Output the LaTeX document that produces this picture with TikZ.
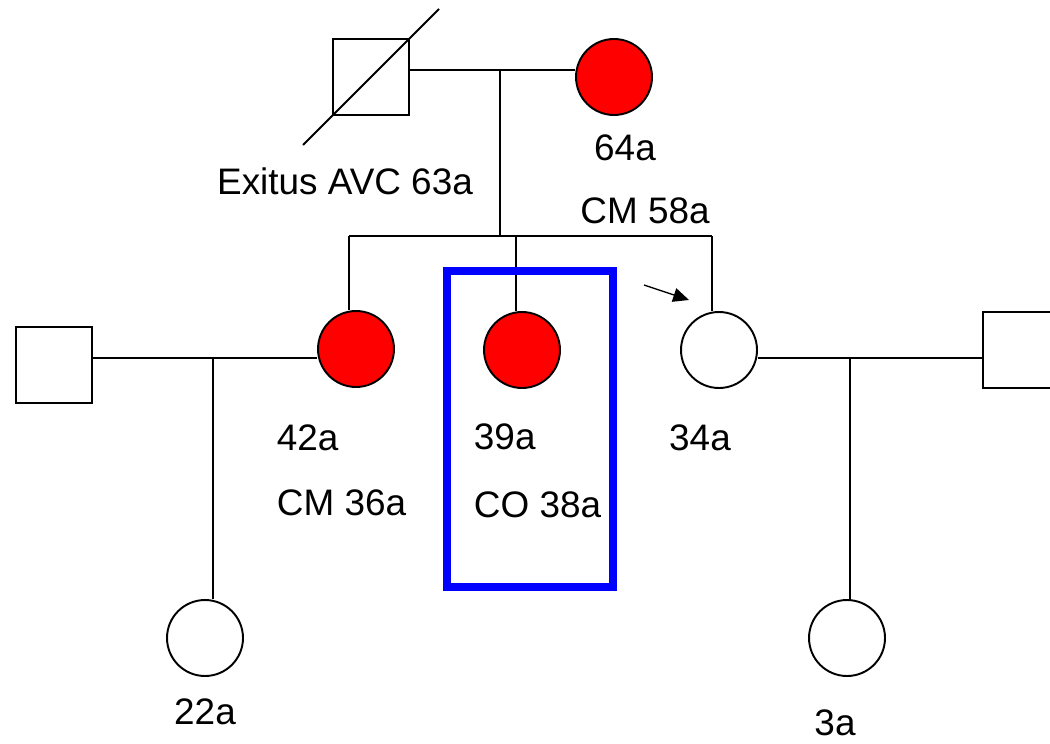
\documentclass[tikz,border=0pt]{standalone}
\usepackage{fontspec}
\setmainfont{Liberation Sans}
\usetikzlibrary{arrows.meta}

\begin{document}
\begin{tikzpicture}[x=0.02cm, y=-0.02cm, line width=1.1pt,
    font=\fontsize{21}{24}\selectfont,
    male/.style={draw, rectangle, minimum size=1.52cm, inner sep=0pt},
    female/.style={draw, circle, minimum size=1.52cm, inner sep=0pt},
    affected/.style={female, fill=red},
    agetext/.style={inner sep=0pt}]
    % picture area, pixel units of the reference (y grows downwards)
    \useasboundingbox (0,0) rectangle (1050,743);
    \clip (0,0) rectangle (1050,743);

    % --- Individuals ---
    % Generation I
    \node[male] (gf) at (371,77) {}; % grandfather (deceased)
    \node[affected] (gm) at (614,77) {}; % grandmother
    % Generation II
    \node[male] (h1) at (54,365) {}; % spouse left
    \node[affected] (d1) at (356,349) {}; % daughter 1
    \node[affected] (d2) at (522,350) {}; % daughter 2 (index)
    \node[female] (d3) at (719,350) {}; % daughter 3 (proband)
    \node[male] (h3) at (1021,350) {}; % spouse right
    % Generation III
    \node[female] (c1) at (205,638) {};
    \node[female] (c3) at (847,638) {};

    % --- Junctions ---
    \coordinate (j0) at (500,70);
    \coordinate (s0) at (500,236);
    \coordinate (s1) at (349,236);
    \coordinate (s2) at (516,236);
    \coordinate (s3) at (712,236);
    \coordinate (j1) at (213,358);
    \coordinate (j3) at (850,358);

    % --- Lines ---
    % Generation I couple and descent
    \draw (gf.east |- j0) -- (j0 -| gm.west);
    \draw (j0) -- (s0);
    % deceased mark
    \draw (303,145) -- (439,9);
    % sibship
    \draw (s1) -- (s3);
    \draw (s1) -- (s1 |- d1.north);
    \draw (s2) -- (s2 |- d2.north);
    \draw (s3) -- (s3 |- d3.north);
    % Generation II couples and descent
    \draw (h1.east |- j1) -- (j1 -| d1.west);
    \draw (j1) -- (j1 |- c1.north);
    \draw (d3.east |- j3) -- (j3 -| h3.west);
    \draw (j3) -- (j3 |- c3.north);

    % proband arrow
    \coordinate (pa) at (644,285);
    \coordinate (pb) at (689,300);
    \draw[line width=0.8pt, -{Triangle[length=9pt, width=8pt]}] (pa) -- (pb);

    % index case frame
    \draw[blue, line width=4pt] (447,271) rectangle (613,587);

    % --- Text Labels ---
    \node[agetext] (tgf) at (345,181) {Exitus AVC 63a};
    \node[agetext] (tgm) at (625,148) {64a};
    \node[agetext] (tgmb) at (645,211) {CM 58a};
    \node[agetext, anchor=west] (td1) at (276,438) {42a};
    \node[agetext, anchor=west] (td1b) at (276,503) {CM 36a};
    \node[agetext, anchor=west] (td2) at (473,437) {39a};
    \node[agetext, anchor=west] (td2b) at (473,505) {CO 38a};
    \node[agetext] (td3) at (700,438) {34a};
    \node[agetext] (tc1) at (205,712) {22a};
    \node[agetext] (tc3) at (835,723) {3a};
\end{tikzpicture}
\end{document}
